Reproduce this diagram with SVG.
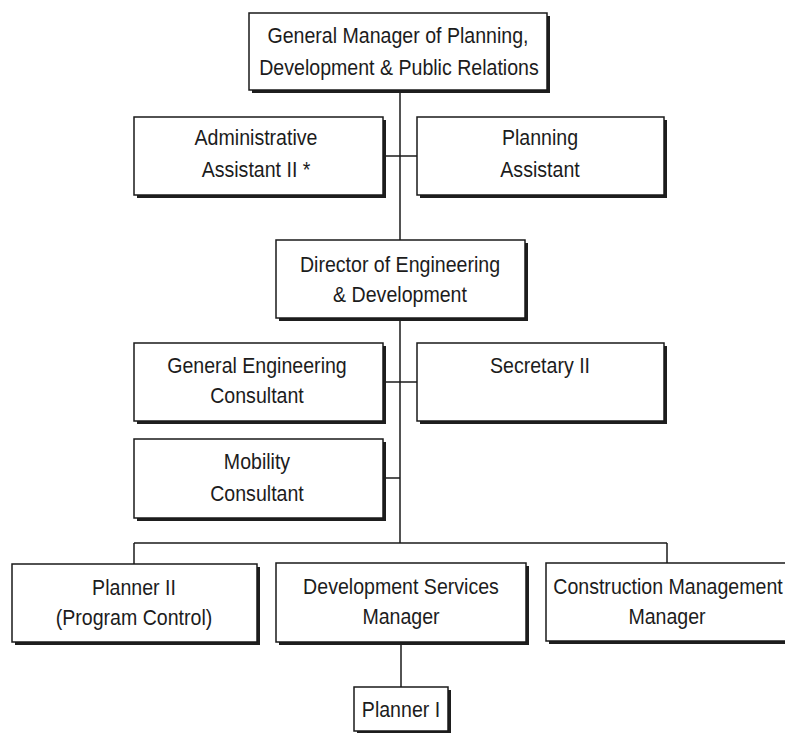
<svg xmlns="http://www.w3.org/2000/svg" width="785" height="733" viewBox="0 0 785 733">
  <style>
    .box { fill: #ffffff; stroke: #1a1a1a; stroke-width: 1.5; }
    .shadow { fill: #1e1e1e; }
    .lbl { font-family: "Liberation Sans", Arial, sans-serif; font-size: 22px; fill: #1c1c1c; text-anchor: middle; }
    .wire { fill: none; stroke: #1a1a1a; stroke-width: 1.5; }
  </style>
  <rect width="785" height="733" fill="#ffffff"/>

  <!-- reporting lines -->
  <g id="connectors">
    <path class="wire" d="M400 90 V240"/>
    <path class="wire" d="M383 156 H417"/>
    <path class="wire" d="M400 318 V543"/>
    <path class="wire" d="M383 382 H417"/>
    <path class="wire" d="M383 478 H400"/>
    <path class="wire" d="M134 543 H667"/>
    <path class="wire" d="M134 543 V564"/>
    <path class="wire" d="M667 543 V563"/>
    <path class="wire" d="M401 642 V687"/>
  </g>

  <!-- labels use a narrowed face: translate to the anchor, then squeeze horizontally -->
  <g id="gm">
    <rect class="shadow" x="252" y="16" width="298" height="77"/>
    <rect class="box" x="249" y="13" width="298" height="77"/>
    <text class="lbl" transform="translate(398 43) scale(0.89 1)">General Manager of Planning,</text>
    <text class="lbl" transform="translate(399 75) scale(0.89 1)">Development &amp; Public Relations</text>
  </g>

  <g id="admin-assistant">
    <rect class="shadow" x="137" y="120" width="249" height="78"/>
    <rect class="box" x="134" y="117" width="249" height="78"/>
    <text class="lbl" transform="translate(256 145) scale(0.89 1)">Administrative</text>
    <text class="lbl" transform="translate(256 177) scale(0.89 1)">Assistant II *</text>
  </g>

  <g id="planning-assistant">
    <rect class="shadow" x="420" y="120" width="247" height="78"/>
    <rect class="box" x="417" y="117" width="247" height="78"/>
    <text class="lbl" transform="translate(540 145) scale(0.89 1)">Planning</text>
    <text class="lbl" transform="translate(540 177) scale(0.89 1)">Assistant</text>
  </g>

  <g id="director">
    <rect class="shadow" x="279" y="243" width="249" height="78"/>
    <rect class="box" x="276" y="240" width="249" height="78"/>
    <text class="lbl" transform="translate(400 272) scale(0.89 1)">Director of Engineering</text>
    <text class="lbl" transform="translate(400 302) scale(0.89 1)">&amp; Development</text>
  </g>

  <g id="engineering-consultant">
    <rect class="shadow" x="137" y="346" width="249" height="78"/>
    <rect class="box" x="134" y="343" width="249" height="78"/>
    <text class="lbl" transform="translate(257 373) scale(0.89 1)">General Engineering</text>
    <text class="lbl" transform="translate(257 403) scale(0.89 1)">Consultant</text>
  </g>

  <g id="secretary">
    <rect class="shadow" x="420" y="346" width="247" height="78"/>
    <rect class="box" x="417" y="343" width="247" height="78"/>
    <text class="lbl" transform="translate(540 373) scale(0.89 1)">Secretary II</text>
  </g>

  <g id="mobility-consultant">
    <rect class="shadow" x="137" y="442" width="249" height="79"/>
    <rect class="box" x="134" y="439" width="249" height="79"/>
    <text class="lbl" transform="translate(257 469) scale(0.89 1)">Mobility</text>
    <text class="lbl" transform="translate(257 501) scale(0.89 1)">Consultant</text>
  </g>

  <g id="planner-ii">
    <rect class="shadow" x="15" y="567" width="245" height="78"/>
    <rect class="box" x="12" y="564" width="245" height="78"/>
    <text class="lbl" transform="translate(134 595) scale(0.89 1)">Planner II</text>
    <text class="lbl" transform="translate(134 625) scale(0.89 1)">(Program Control)</text>
  </g>

  <g id="development-services">
    <rect class="shadow" x="279" y="566" width="250" height="79"/>
    <rect class="box" x="276" y="563" width="250" height="79"/>
    <text class="lbl" transform="translate(401 594) scale(0.89 1)">Development Services</text>
    <text class="lbl" transform="translate(401 624) scale(0.89 1)">Manager</text>
  </g>

  <g id="construction-management">
    <rect class="shadow" x="549" y="566" width="244" height="78"/>
    <rect class="box" x="546" y="563" width="244" height="78"/>
    <text class="lbl" transform="translate(668 594) scale(0.89 1)">Construction Management</text>
    <text class="lbl" transform="translate(667 624) scale(0.89 1)">Manager</text>
  </g>

  <g id="planner-i">
    <rect class="shadow" x="357" y="690" width="94" height="45"/>
    <rect class="box" x="354" y="687" width="94" height="44"/>
    <text class="lbl" transform="translate(401 717) scale(0.89 1)">Planner I</text>
  </g>
</svg>
